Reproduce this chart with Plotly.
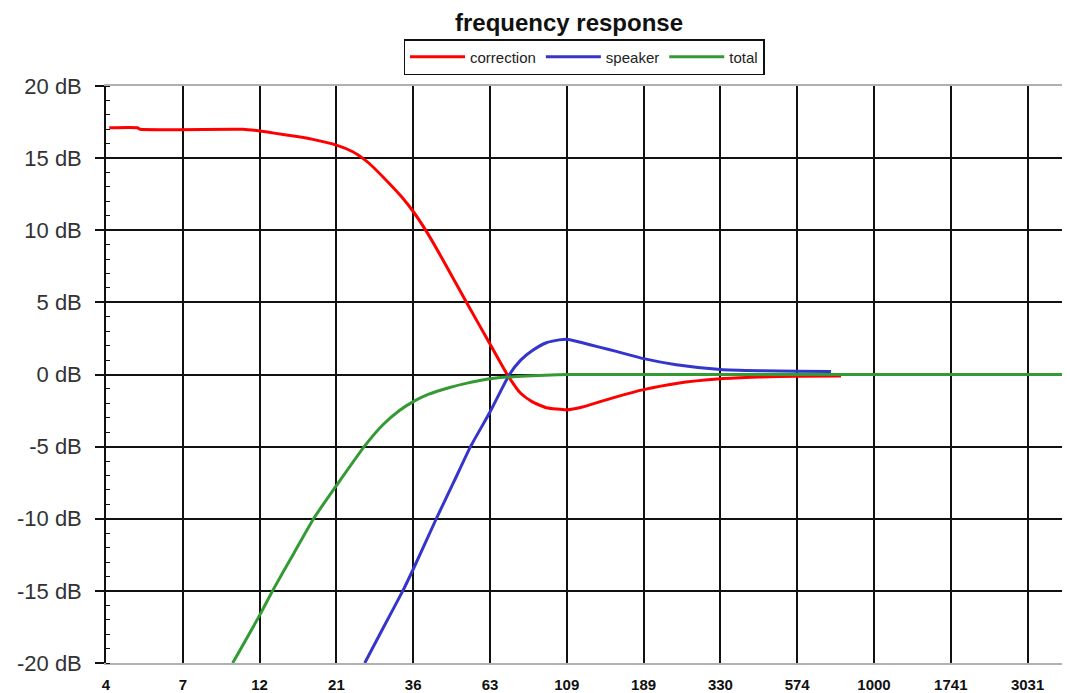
import plotly.graph_objects as go
import math

# ---- data ----
tick_freqs = [3.906, 6.804, 11.84, 20.62, 35.90, 62.50, 108.8, 189.5, 329.9, 574.3, 1000, 1741, 3031]
tick_labels = ["4", "7", "12", "21", "36", "63", "109", "189", "330", "574", "1000", "1741", "3031"]

correction_f = [4.0, 4.9, 5.0, 10.5, 11.84, 13.0, 15.5, 17.4, 20.62, 23.2, 24.9, 26.2, 30.0, 33.0,
                35.9, 39.8, 45.0, 53.2, 62.5, 70.8, 78.0, 84.9, 93.9, 108.8, 121.8, 137.6, 155.6,
                189.5, 239.8, 329.9, 436, 574.3, 788]
correction_db = [17.1, 17.1, 17.0, 17.0, 16.88, 16.75, 16.5, 16.3, 15.9, 15.44, 15.0, 14.61, 13.31, 12.32,
                 11.3, 9.8, 7.75, 4.85, 2.12, 0.0, -1.3, -1.9, -2.3, -2.45, -2.25, -1.9, -1.55,
                 -1.05, -0.62, -0.3, -0.18, -0.12, -0.1]

speaker_f = [25.3, 29.0, 33.3, 35.9, 42.4, 48.0, 54.3, 62.5, 71.9, 78.0, 84.9, 93.9, 103, 108.8,
             121.8, 137.6, 155.6, 189.5, 239.8, 329.9, 436, 574.3, 733]
speaker_db = [-20, -17.5, -15, -13.5, -10, -7.5, -5, -2.6, 0, 1.0, 1.66, 2.2, 2.4, 2.45,
              2.2, 1.9, 1.6, 1.1, 0.68, 0.35, 0.26, 0.22, 0.2]

total_f = [9.75, 11.84, 13.0, 15.2, 17.6, 20.62, 25.3, 28.8, 32.5, 35.9, 40.0, 46.7, 53.0, 59.2, 70.8,
           93.0, 110.0, 4000]
total_db = [-20, -16.7, -15, -12.35, -9.9, -7.7, -4.95, -3.5, -2.5, -1.88, -1.38, -0.9, -0.6, -0.38, -0.18,
            -0.05, 0, 0]

y_ticks = [-20, -15, -10, -5, 0, 5, 10, 15, 20]
y_labels = ["-20 dB", "-15 dB", "-10 dB", "-5 dB", "0 dB", "5 dB", "10 dB", "15 dB", "20 dB"]

W, H = 1062, 685  # page body adds an 8px margin around the figure

fig = go.Figure()
fig.add_trace(go.Scatter(x=correction_f, y=correction_db, mode="lines", name="correction",
                         line=dict(color="#ff0000", width=3, shape="spline", smoothing=0.5)))
fig.add_trace(go.Scatter(x=speaker_f, y=speaker_db, mode="lines", name="speaker",
                         line=dict(color="#3535cc", width=3, shape="spline", smoothing=0.5)))
fig.add_trace(go.Scatter(x=total_f, y=total_db, mode="lines", name="total",
                         line=dict(color="#349a34", width=3, shape="spline", smoothing=0.5)))

fig.update_layout(
    width=W, height=H,
    margin=dict(l=98, r=4, t=78, b=30),
    paper_bgcolor="white", plot_bgcolor="white",
    title=dict(text="<b>frequency response</b>", x=561/W, xanchor="center",
               y=1-6/H, yanchor="top", pad=dict(t=0, b=0, l=0, r=0),
               font=dict(family="Liberation Sans", size=24, color="#111")),
    legend=dict(orientation="h", xref="container", yref="container",
                x=576/W, xanchor="center", y=1-31/H, yanchor="top",
                bordercolor="#111", borderwidth=1.5, bgcolor="white",
                font=dict(family="Liberation Sans", size=15, color="#222"),
                itemwidth=55, tracegroupgap=0),
    showlegend=True,
)

fig.update_xaxes(
    type="log", automargin=False,
    range=[math.log10(3.90625), math.log10(4000)],
    tickvals=tick_freqs, ticktext=tick_labels,
    showgrid=True, gridcolor="#111", gridwidth=1.6,
    showline=True, linecolor="#b0b0b0", linewidth=1.5, mirror=True,
    ticks="", ticklabelstandoff=7,
    tickfont=dict(family="Liberation Sans", size=15, color="#111", weight="bold"),
    zeroline=False,
)
fig.update_yaxes(
    range=[-20, 20], automargin=False,
    tickvals=y_ticks, ticktext=y_labels,
    showgrid=True, gridcolor="#111", gridwidth=1.6,
    showline=True, linecolor="#111", linewidth=1.6, mirror=False,
    ticks="outside", ticklen=9, tickwidth=1.6, tickcolor="#111",
    ticklabelstandoff=9,
    minor=dict(dtick=1, ticks="inside", ticklen=4, tickwidth=1.4, tickcolor="#111", showgrid=False),
    tickfont=dict(family="Liberation Sans", size=22, color="#333"),
    zeroline=False,
)

fig.add_shape(type="line", xref="paper", yref="paper", x0=1, x1=1, y0=0, y1=1,
              line=dict(color="#b0b0b0", width=1.5))

fig.write_html("out.html")
